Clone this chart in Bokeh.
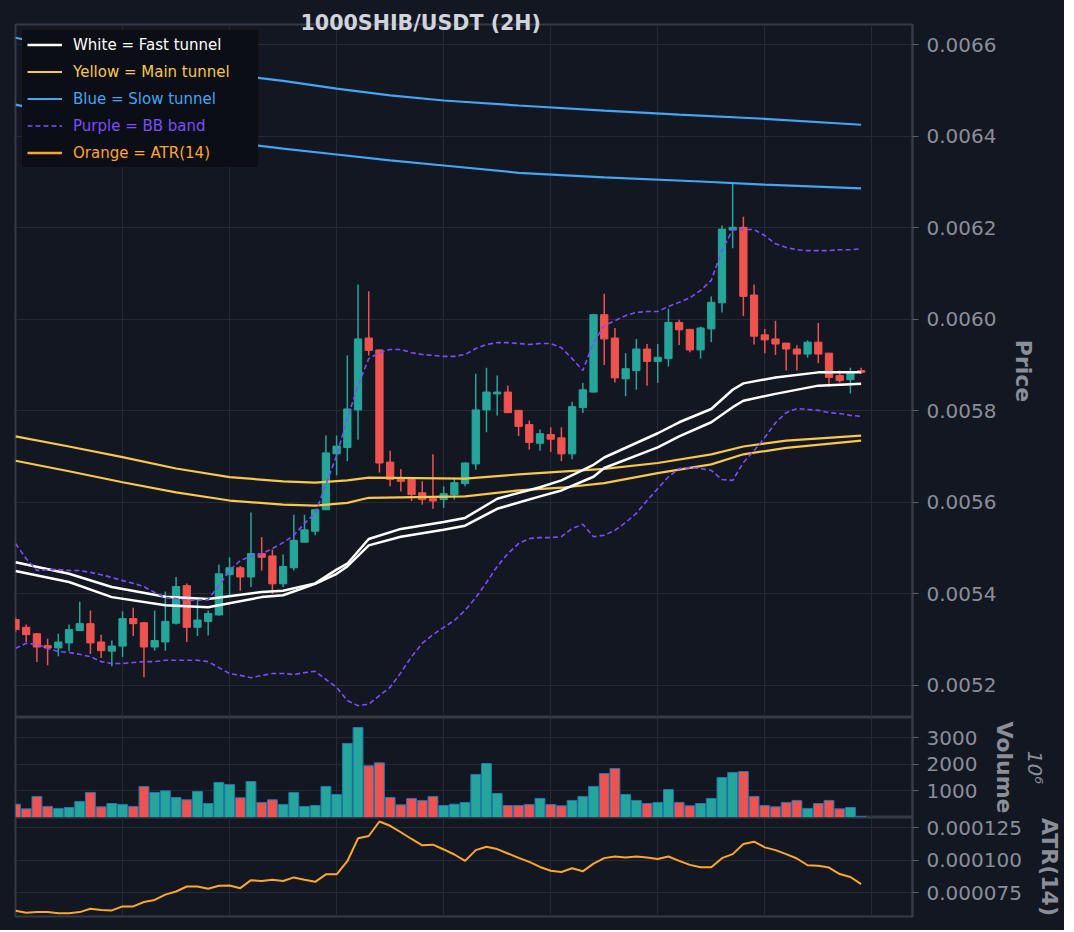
from bokeh.plotting import figure
from bokeh.models import (Range1d, FixedTicker, PrintfTickFormatter, Legend, LegendItem,
                          ColumnDataSource, Grid, LinearAxis)
from bokeh.layouts import column
from bokeh.embed import file_html
from bokeh.resources import INLINE

# ---------------- data ----------------
idx = list(range(80))

opens = [
    0.005344, 0.005327, 0.005313, 0.005287, 0.005282, 0.005293, 0.005320, 0.005335, 0.005295, 0.005275,
    0.005286, 0.005346, 0.005337, 0.005284, 0.005295, 0.005336, 0.005418, 0.005327, 0.005340, 0.005354,
    0.005442, 0.005457, 0.005437, 0.005488, 0.005483, 0.005422, 0.005457, 0.005513, 0.005537, 0.005584,
    0.005706, 0.005720, 0.005802, 0.005959, 0.005933, 0.005688, 0.005650, 0.005650, 0.005621, 0.005609,
    0.005606, 0.005617, 0.005641, 0.005684, 0.005802, 0.005837, 0.005841, 0.005801, 0.005770, 0.005729,
    0.005748, 0.005741, 0.005706, 0.005807, 0.005841, 0.006010, 0.005959, 0.005870, 0.005888, 0.005935,
    0.005908, 0.005914, 0.005993, 0.005978, 0.005933, 0.005979, 0.006036, 0.006195, 0.006201, 0.006053,
    0.005966, 0.005957, 0.005948, 0.005935, 0.005924, 0.005950, 0.005926, 0.005877, 0.005868, 0.005888,
]
closes = [
    0.005322, 0.005311, 0.005284, 0.005282, 0.005295, 0.005322, 0.005335, 0.005293, 0.005276, 0.005286,
    0.005346, 0.005335, 0.005284, 0.005298, 0.005340, 0.005416, 0.005327, 0.005343, 0.005357, 0.005444,
    0.005457, 0.005437, 0.005488, 0.005480, 0.005422, 0.005460, 0.005517, 0.005540, 0.005584, 0.005708,
    0.005723, 0.005804, 0.005957, 0.005932, 0.005686, 0.005650, 0.005646, 0.005617, 0.005606, 0.005603,
    0.005619, 0.005643, 0.005686, 0.005802, 0.005841, 0.005841, 0.005796, 0.005766, 0.005731, 0.005750,
    0.005738, 0.005706, 0.005809, 0.005846, 0.006010, 0.005957, 0.005872, 0.005892, 0.005935, 0.005908,
    0.005917, 0.005993, 0.005977, 0.005933, 0.005981, 0.006037, 0.006197, 0.006201, 0.006050, 0.005963,
    0.005955, 0.005946, 0.005935, 0.005924, 0.005950, 0.005924, 0.005873, 0.005866, 0.005884, 0.005884,
]
highs = [
    0.005349, 0.005333, 0.005314, 0.005302, 0.005313, 0.005333, 0.005383, 0.005364, 0.005311, 0.005298,
    0.005362, 0.005370, 0.005338, 0.005364, 0.005405, 0.005437, 0.005423, 0.005388, 0.005364, 0.005464,
    0.005480, 0.005461, 0.005578, 0.005524, 0.005497, 0.005486, 0.005573, 0.005573, 0.005585, 0.005746,
    0.005746, 0.005921, 0.006076, 0.006061, 0.005934, 0.005713, 0.005673, 0.005655, 0.005646, 0.005705,
    0.005635, 0.005654, 0.005687, 0.005881, 0.005894, 0.005877, 0.005855, 0.005802, 0.005779, 0.005759,
    0.005764, 0.005764, 0.005820, 0.005861, 0.006012, 0.006056, 0.005981, 0.005926, 0.005957, 0.005946,
    0.005946, 0.006023, 0.005999, 0.005979, 0.005984, 0.006050, 0.006205, 0.006299, 0.006224, 0.006076,
    0.005979, 0.005997, 0.005948, 0.005943, 0.005954, 0.005992, 0.005926, 0.005888, 0.005894, 0.005894,
]
lows = [
    0.005316, 0.005295, 0.005251, 0.005244, 0.005264, 0.005275, 0.005319, 0.005269, 0.005260, 0.005242,
    0.005262, 0.005308, 0.005218, 0.005276, 0.005276, 0.005333, 0.005295, 0.005308, 0.005309, 0.005353,
    0.005393, 0.005407, 0.005415, 0.005451, 0.005400, 0.005415, 0.005451, 0.005512, 0.005528, 0.005583,
    0.005659, 0.005690, 0.005737, 0.005921, 0.005665, 0.005635, 0.005624, 0.005603, 0.005595, 0.005586,
    0.005588, 0.005606, 0.005635, 0.005672, 0.005753, 0.005790, 0.005795, 0.005745, 0.005715, 0.005713,
    0.005710, 0.005690, 0.005694, 0.005795, 0.005840, 0.005900, 0.005862, 0.005832, 0.005846, 0.005855,
    0.005861, 0.005897, 0.005944, 0.005928, 0.005914, 0.005950, 0.006015, 0.006155, 0.006007, 0.005945,
    0.005926, 0.005922, 0.005888, 0.005888, 0.005916, 0.005904, 0.005852, 0.005862, 0.005838, 0.005881,
]
volume = [
    500, 325, 790, 415, 340, 375, 600, 940, 400, 525,
    490, 415, 1165, 940, 1000, 750, 665, 975, 525, 1315,
    1240, 740, 1350, 565, 665, 490, 940, 415, 450, 1165,
    865, 2775, 3375, 1940, 2050, 750, 475, 715, 640, 790,
    450, 500, 565, 1615, 2025, 900, 450, 450, 490, 715,
    490, 440, 640, 790, 1165, 1650, 1840, 865, 640, 525,
    565, 1050, 565, 440, 525, 715, 1500, 1690, 1725, 790,
    450, 400, 565, 640, 340, 525, 640, 325, 375, 30,
]
atr14 = [
    6.09e-5, 5.94e-5, 5.99e-5, 5.99e-5, 5.91e-5, 5.91e-5, 5.99e-5, 6.25e-5, 6.15e-5, 6.12e-5,
    6.43e-5, 6.43e-5, 6.77e-5, 6.93e-5, 7.34e-5, 7.58e-5, 7.97e-5, 7.97e-5, 7.79e-5, 8.02e-5,
    8.05e-5, 7.84e-5, 8.46e-5, 8.39e-5, 8.49e-5, 8.39e-5, 8.67e-5, 8.49e-5, 8.33e-5, 8.91e-5,
    8.91e-5, 9.92e-5, 1.169e-4, 1.187e-4, 1.299e-4, 1.266e-4, 1.216e-4, 1.164e-4, 1.115e-4, 1.120e-4,
    1.083e-4, 1.044e-4, 9.95e-5, 1.078e-4, 1.104e-4, 1.086e-4, 1.052e-4, 1.018e-4, 9.87e-5, 9.48e-5,
    9.19e-5, 9.09e-5, 9.38e-5, 9.14e-5, 9.74e-5, 1.016e-4, 1.029e-4, 1.021e-4, 1.029e-4, 1.021e-4,
    1.010e-4, 1.029e-4, 9.95e-5, 9.64e-5, 9.45e-5, 9.45e-5, 1.016e-4, 1.047e-4, 1.125e-4, 1.143e-4,
    1.099e-4, 1.078e-4, 1.047e-4, 1.013e-4, 9.61e-5, 9.58e-5, 9.43e-5, 8.93e-5, 8.70e-5, 8.15e-5,
]

fast_x = [0, 5, 9, 14, 18, 23, 25, 28, 30, 31, 33, 36, 40, 42, 45, 49, 51, 54, 55, 60, 62, 65, 67, 68, 71, 75, 79]
fast_upper = [0.005469, 0.005444, 0.005415, 0.005394, 0.005389, 0.005404, 0.005407, 0.005423, 0.005453,
              0.005466, 0.005520, 0.005542, 0.005557, 0.005566, 0.005608, 0.005633, 0.005648, 0.005682,
              0.005698, 0.005751, 0.005775, 0.005804, 0.005846, 0.005860, 0.005873, 0.005884, 0.005884]
fast_lower = [0.005450, 0.005426, 0.005393, 0.005375, 0.005371, 0.005393, 0.005397, 0.005422, 0.005444,
              0.005460, 0.005506, 0.005525, 0.005540, 0.005549, 0.005586, 0.005613, 0.005626, 0.005656,
              0.005675, 0.005720, 0.005744, 0.005775, 0.005808, 0.005822, 0.005837, 0.005855, 0.005859]

main_up_x = [0, 5, 10, 15, 20, 25, 28, 31, 33, 42, 47, 55, 60, 65, 68, 72, 79]
main_upper = [0.005744, 0.005722, 0.005699, 0.005674, 0.005655, 0.005646, 0.005643, 0.005648, 0.005654,
              0.005652, 0.005661, 0.005673, 0.005686, 0.005705, 0.005722, 0.005735, 0.005746]
main_lo_x = [0, 5, 10, 15, 20, 25, 28, 31, 33, 42, 47, 51, 55, 60, 65, 68, 72, 79]
main_lower = [0.005691, 0.005668, 0.005644, 0.005622, 0.005604, 0.005595, 0.005593, 0.005599, 0.005610,
              0.005613, 0.005626, 0.005632, 0.005642, 0.005664, 0.005683, 0.005705, 0.005719, 0.005735]

slow_up_x = [0, 5, 10, 15, 21, 25, 30, 35, 40, 47, 55, 62, 70, 79]
slow_upper = [0.006615, 0.006591, 0.006569, 0.006550, 0.006532, 0.006521, 0.006504, 0.006489, 0.006478,
              0.006467, 0.006456, 0.006447, 0.006438, 0.006425]
slow_lo_x = [0, 5, 10, 15, 21, 25, 30, 35, 40, 47, 55, 64, 70, 79]
slow_lower = [0.006469, 0.006445, 0.006423, 0.006403, 0.006384, 0.006373, 0.006360, 0.006347, 0.006336,
              0.006320, 0.006310, 0.006301, 0.006294, 0.006286]

bb_upper = [
    0.005510, 0.005477, 0.005451, 0.005453, 0.005453, 0.005451, 0.005451, 0.005447, 0.005442, 0.005436,
    0.005429, 0.005423, 0.005416, 0.005403, 0.005392, 0.005390, 0.005386, 0.005386, 0.005388, 0.005418,
    0.005451, 0.005473, 0.005482, 0.005488, 0.005499, 0.005512, 0.005528, 0.005554, 0.005576, 0.005639,
    0.005702, 0.005783, 0.005855, 0.005914, 0.005927, 0.005934, 0.005934, 0.005927, 0.005923, 0.005921,
    0.005919, 0.005919, 0.005923, 0.005936, 0.005945, 0.005949, 0.005949, 0.005947, 0.005945, 0.005947,
    0.005947, 0.005938, 0.005914, 0.005888, 0.005949, 0.005986, 0.005997, 0.006008, 0.006015, 0.006017,
    0.006017, 0.006028, 0.006037, 0.006047, 0.006063, 0.006085, 0.006150, 0.006196, 0.006196, 0.006196,
    0.006183, 0.006165, 0.006157, 0.006152, 0.006150, 0.006150, 0.006150, 0.006152, 0.006152, 0.006154,
]
bb_lower = [
    0.005281, 0.005292, 0.005290, 0.005281, 0.005274, 0.005272, 0.005268, 0.005263, 0.005252, 0.005248,
    0.005248, 0.005250, 0.005252, 0.005252, 0.005255, 0.005255, 0.005255, 0.005255, 0.005252, 0.005239,
    0.005226, 0.005222, 0.005217, 0.005222, 0.005226, 0.005226, 0.005224, 0.005228, 0.005231, 0.005213,
    0.005196, 0.005167, 0.005156, 0.005159, 0.005178, 0.005196, 0.005228, 0.005263, 0.005292, 0.005311,
    0.005327, 0.005342, 0.005364, 0.005392, 0.005425, 0.005460, 0.005488, 0.005510, 0.005521, 0.005523,
    0.005523, 0.005525, 0.005543, 0.005552, 0.005525, 0.005528, 0.005539, 0.005556, 0.005576, 0.005604,
    0.005630, 0.005656, 0.005674, 0.005676, 0.005674, 0.005670, 0.005650, 0.005648, 0.005687, 0.005713,
    0.005742, 0.005774, 0.005796, 0.005805, 0.005803, 0.005801, 0.005796, 0.005794, 0.005790, 0.005788,
]

price_ticks = [0.0052, 0.0054, 0.0056, 0.0058, 0.0060, 0.0062, 0.0064, 0.0066]
volume_ticks = [1000, 2000, 3000]
atr_ticks = [0.000075, 0.000100, 0.000125]
time_grid = [10, 20, 30, 40, 50, 60, 70, 80]

title_text = "1000SHIB/USDT (2H)"
legend_labels = ["White = Fast tunnel", "Yellow = Main tunnel", "Blue = Slow tunnel",
                 "Purple = BB band", "Orange = ATR(14)"]

# ---------------- style ----------------
BG = "#131722"
GRID = "#262a35"
BORDER = "#363a45"
TXT = "#8a8e99"
UP = "#26a69a"
DOWN = "#ef5350"
WHITE = "#ffffff"
YELLOW = "#f9c846"
BLUE = "#42a5f5"
PURPLE = "#7c4dff"
ORANGE = "#ffa726"
LEG_BG = "#0b0e14"
FONT = "DejaVu Sans"

xr = Range1d(0, 83.8)


def make_fig(frame_h, yr, top, bottom):
    p = figure(frame_width=897, frame_height=frame_h, x_range=xr, y_range=yr,
               output_backend="svg", toolbar_location=None,
               x_axis_location=None, y_axis_location="right",
               min_border_left=15, min_border_right=0,
               min_border_top=top, min_border_bottom=bottom,
               background_fill_color=BG, border_fill_color=BG,
               outline_line_color=BORDER, outline_line_width=2)
    for g in list(p.xgrid):
        g.visible = False
    p.add_layout(Grid(dimension=0, ticker=FixedTicker(ticks=time_grid),
                      grid_line_color=GRID, grid_line_width=1))
    p.ygrid.grid_line_color = GRID
    p.ygrid.grid_line_width = 1
    ax = p.yaxis[0]
    ax.axis_line_color = BORDER
    ax.axis_line_width = 2
    ax.major_tick_line_color = "#5d606b"
    ax.major_tick_out = 6
    ax.major_tick_in = 0
    ax.minor_tick_line_color = None
    ax.major_label_standoff = 8
    ax.major_label_text_font = FONT
    ax.major_label_text_font_size = "20px"
    ax.major_label_text_color = TXT
    ax.axis_label_text_font = FONT
    ax.axis_label_text_font_size = "22px"
    ax.axis_label_text_font_style = "bold"
    ax.axis_label_text_color = TXT
    ax.axis_label_standoff = 12
    return p


# ---------------- main price panel ----------------
p = make_fig(693, Range1d(0.005130, 0.006644), 24, 0)
p.yaxis[0].ticker = FixedTicker(ticks=price_ticks)
p.yaxis[0].formatter = PrintfTickFormatter(format="%.4f")
p.yaxis[0].axis_label = "Price"

# title drawn across the top border, as in the original
p.title.text = title_text
p.title.text_font = FONT
p.title.text_font_size = "20.6px"
p.title.text_font_style = "bold"
p.title.text_color = "#d1d4dc"
p.title.align = "left"
p.title.offset = 285
p.title.standoff = -20
p.title.vertical_align = "bottom"

colors = [UP if c >= o else DOWN for o, c in zip(opens, closes)]
src = ColumnDataSource(dict(
    i=idx, high=highs, low=lows,
    top=[max(o, c) for o, c in zip(opens, closes)],
    bot=[min(o, c) for o, c in zip(opens, closes)],
    color=colors,
))
p.segment(x0="i", y0="low", x1="i", y1="high", line_color="color", line_width=1.5, source=src)
p.vbar(x="i", top="top", bottom="bot", width=0.68, fill_color="color", line_color="color",
       line_width=1, source=src)

r_slow = p.line(slow_up_x, slow_upper, line_color=BLUE, line_width=2.2)
p.line(slow_lo_x, slow_lower, line_color=BLUE, line_width=2.2)
r_main = p.line(main_up_x, main_upper, line_color=YELLOW, line_width=2.2)
p.line(main_lo_x, main_lower, line_color=YELLOW, line_width=2.2)
r_fast = p.line(fast_x, fast_upper, line_color=WHITE, line_width=2.5)
p.line(fast_x, fast_lower, line_color=WHITE, line_width=2.5)
r_bb = p.line(idx, bb_upper, line_color=PURPLE, line_width=1.6, line_dash="5 3")
p.line(idx, bb_lower, line_color=PURPLE, line_width=1.6, line_dash="5 3")
# ATR drawn on the price scale too (falls far outside the visible price range):
# it only serves as the legend entry of the price panel
r_atr_leg = p.line(idx, atr14, line_color=ORANGE, line_width=2.5)

# ---------------- volume panel ----------------
pv = make_fig(100, Range1d(0, 3750), 0, 0)
pv.yaxis[0].ticker = FixedTicker(ticks=volume_ticks)
pv.yaxis[0].formatter = PrintfTickFormatter(format="%d")
pv.yaxis[0].axis_label = "Volume"
exp_axis = LinearAxis(ticker=FixedTicker(ticks=[]), axis_label="10⁶",
                      axis_line_color=None, major_tick_line_color=None,
                      minor_tick_line_color=None, major_label_text_font_size="0px",
                      axis_label_text_font=FONT, axis_label_text_font_size="20px",
                      axis_label_text_color=TXT, axis_label_standoff=2)
pv.add_layout(exp_axis, "right")
vsrc = ColumnDataSource(dict(i=idx, v=volume, color=colors))
pv.vbar(x="i", top="v", bottom=0, width=0.92, fill_color="color", line_color="#1f77b4",
        line_width=1, source=vsrc)

# ---------------- ATR panel ----------------
pa = make_fig(99, Range1d(0.0000565, 0.000133), 0, 14)
pa.yaxis[0].ticker = FixedTicker(ticks=atr_ticks)
pa.yaxis[0].formatter = PrintfTickFormatter(format="%.6f")
pa.yaxis[0].axis_label = "ATR(14)"
pa.line(idx, atr14, line_color=ORANGE, line_width=2)

# ---------------- legend (one box per coloured entry) ----------------
entries = [(legend_labels[0], r_fast, WHITE), (legend_labels[1], r_main, YELLOW),
           (legend_labels[2], r_slow, BLUE), (legend_labels[3], r_bb, PURPLE),
           (legend_labels[4], r_atr_leg, ORANGE)]
for k, (lab, rend, col) in enumerate(entries):
    lg = Legend(items=[LegendItem(label=lab, renderers=[rend])],
                location=(7, 658 - 27 * k), orientation="vertical",
                padding=4, margin=0, spacing=0,
                glyph_width=35, glyph_height=19, label_height=19, label_width=180,
                label_standoff=11, label_text_font=FONT, label_text_font_size="15px",
                label_text_color=col, background_fill_color=LEG_BG,
                background_fill_alpha=1.0, border_line_color=LEG_BG, border_line_width=1)
    p.add_layout(lg)

layout = column(p, pv, pa, spacing=0, styles={"background-color": BG})

html = file_html(layout, INLINE, title="1000SHIB/USDT (2H)")
html = html.replace("<body>", '<body style="background-color:#131722;">', 1)
with open("out.html", "w") as f:
    f.write(html)
